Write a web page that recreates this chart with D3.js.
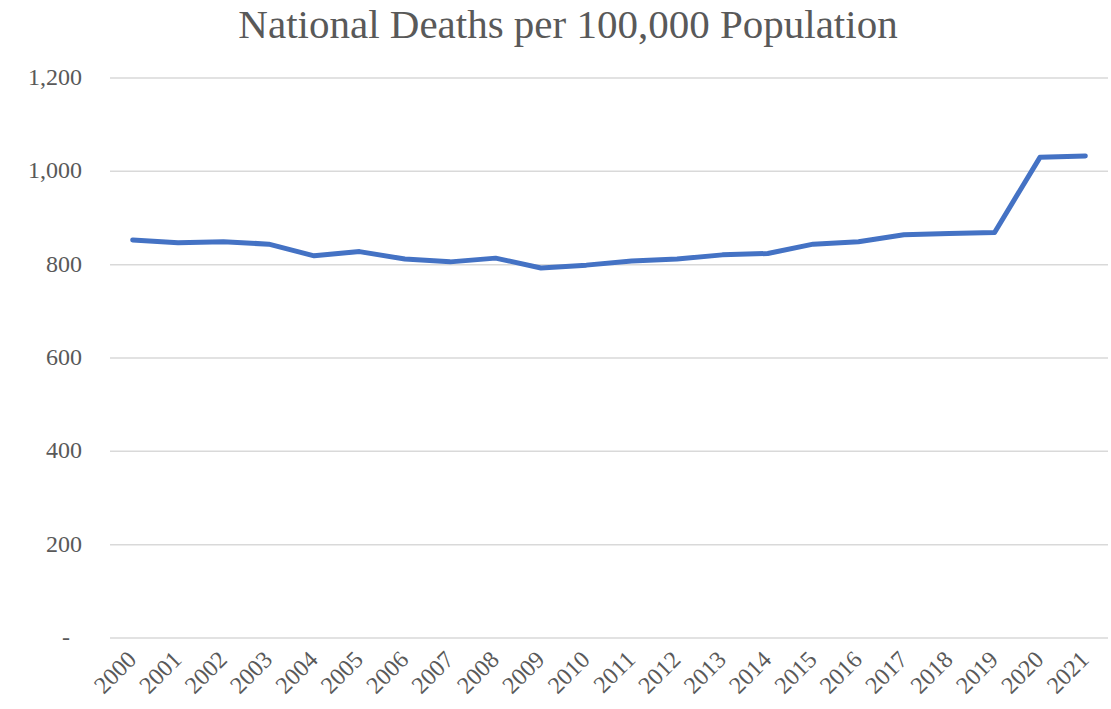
<!DOCTYPE html>
<html>
<head>
<meta charset="utf-8">
<script src="https://cdnjs.cloudflare.com/ajax/libs/d3/7.8.5/d3.min.js"></script>
<style>
	body { margin: 0; background: #fff; }
	svg text { fill: #595959; }
</style>
</head>
<body>
<svg id="chart"></svg>
<script>
// data
const years = ["2000", "2001", "2002", "2003", "2004", "2005", "2006", "2007", "2008", "2009", "2010",
	"2011", "2012", "2013", "2014", "2015", "2016", "2017", "2018", "2019", "2020", "2021"];
const deathsPer100k = [853, 847, 849, 844, 819, 828, 812, 806, 814, 793, 799,
	808, 812, 821, 824, 844, 849, 864, 867, 869, 1030, 1033];
const yTicks = [0, 200, 400, 600, 800, 1000, 1200];
const title = "National Deaths per 100,000 Population";

const width = 1111;
const height = 709;
const margin = { top: 78, right: 3, bottom: 71, left: 110 };

const svg = d3.select("#chart").attr("width", width).attr("height", height);

const x = d3.scaleBand()
	.domain(years)
	.range([margin.left, width - margin.right]);

const y = d3.scaleLinear()
	.domain([0, 1200])
	.range([height - margin.bottom, margin.top]);

// gridlines
svg.append("g")
	.selectAll("line")
	.data(yTicks)
	.enter().append("line")
	.attr("x1", margin.left)
	.attr("x2", width - margin.right)
	.attr("y1", d => y(d))
	.attr("y2", d => y(d))
	.attr("stroke", "#d9d9d9")
	.attr("stroke-width", 1.5);

// y labels
const fmt = d3.format(",");
svg.append("g")
	.selectAll("text")
	.data(yTicks)
	.enter().append("text")
	.attr("x", d => d === 0 ? 70 : 82)
	.attr("y", d => y(d) + 7)
	.attr("text-anchor", "end")
	.style("font-family", "'Liberation Serif', serif")
	.style("font-size", "24px")
	.text(d => d === 0 ? "-" : fmt(d));

// x labels, rotated
svg.append("g")
	.selectAll("text")
	.data(years)
	.enter().append("text")
	.attr("transform", d => "translate(" + (x(d) + x.bandwidth() / 2 + 5) + "," + (height - margin.bottom + 23) + ") rotate(-45)")
	.attr("text-anchor", "end")
	.style("font-family", "'Liberation Serif', serif")
	.style("font-size", "24px")
	.text(d => d);

// the line
const line = d3.line()
	.x((d, i) => x(years[i]) + x.bandwidth() / 2)
	.y(d => y(d));

svg.append("path")
	.datum(deathsPer100k)
	.attr("d", line)
	.attr("fill", "none")
	.attr("stroke", "#4472c4")
	.attr("stroke-width", 5)
	.attr("stroke-linecap", "round")
	.attr("stroke-linejoin", "round");

// title
svg.append("text")
	.attr("x", 568)
	.attr("y", 38)
	.attr("text-anchor", "middle")
	.style("font-family", "'Liberation Serif', serif")
	.style("font-size", "41px")
	.text(title);
</script>
</body>
</html>
